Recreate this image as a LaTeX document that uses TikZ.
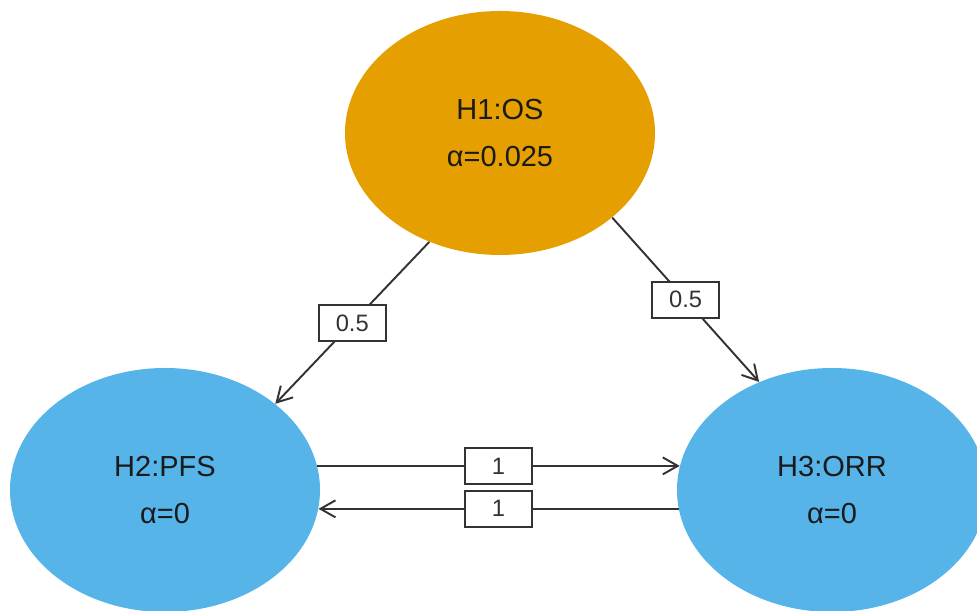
\documentclass[tikz,border=0pt]{standalone}
\usepackage{fontspec}
\setmainfont{Liberation Sans}
\usetikzlibrary{arrows.meta,shapes.geometric}
\definecolor{hprimary}{HTML}{E69F00}
\definecolor{hsecondary}{HTML}{56B4E9}
\definecolor{edge}{HTML}{333333}
\definecolor{txt}{HTML}{1A1A1A}

\tikzset{
  hyp/.style={ellipse, minimum width=6.2cm, minimum height=4.88cm, inner sep=0pt,
    align=center, text=txt, font=\fontsize{16.5}{27}\selectfont},
  weight/.style={draw=edge, fill=white, line width=1.1pt, minimum width=1.34cm,
    minimum height=0.72cm, inner sep=0pt, text=edge, font=\fontsize{13.5}{15}\selectfont},
  pass/.style={-{Straight Barb[length=3mm, width=3.4mm]}, line width=1.1pt, draw=edge},
}

\begin{document}
\begin{tikzpicture}
  \useasboundingbox (0, 0) rectangle (19.54, 12.22);

  % Hypotheses
  \node[hyp, fill=hprimary] (h1) at (10.0, 9.56) {H1:OS\\α=0.025};
  \node[hyp, fill=hsecondary] (h2) at (3.3, 2.42) {H2:PFS\\α=0};
  \node[hyp, fill=hsecondary] (h3) at (16.64, 2.42) {H3:ORR\\α=0};

  % Propagation of alpha
  \draw[pass] (h1.237) -- (h2.38) node[weight, pos=0.5] {0.5};
  \draw[pass] (h1.323) -- (h3.124) node[weight, pos=0.5] {0.5};
  \draw[pass] (h2.9) -- (h3.171) node[weight, pos=0.5] {1};
  \draw[pass] (h3.187) -- (h2.353) node[weight, pos=0.5] {1};
\end{tikzpicture}
\end{document}
